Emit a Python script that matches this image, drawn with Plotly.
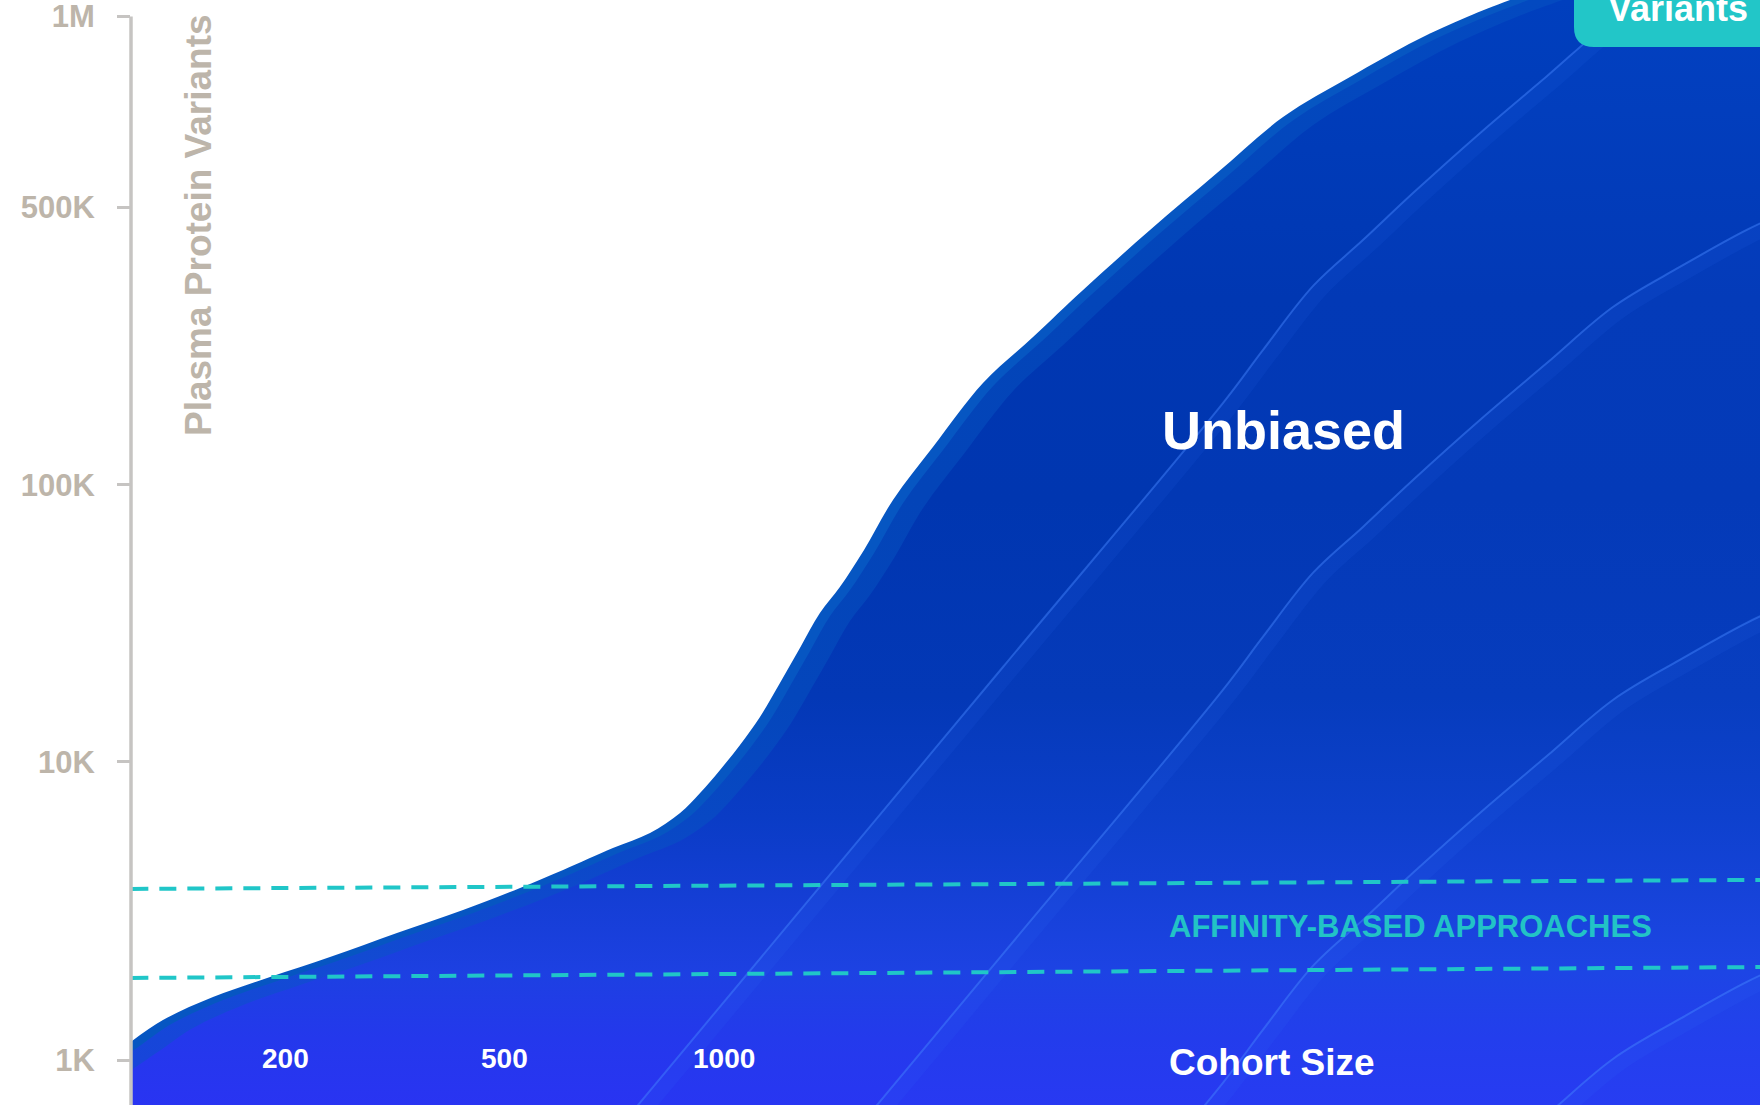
import numpy as np
import plotly.graph_objects as go

# ---------------- data ----------------
# y axis: plasma protein variants, labelled at these values / display levels
TICK_VALUES = [1_000, 10_000, 100_000, 500_000, 1_000_000]
TICK_TEXT = ["1K", "10K", "100K", "500K", "1M"]
TICK_LEVELS = [0.175, 1.335, 2.4125, 3.494, 4.235]
Y_TOP = 4.2996

# x axis: cohort size steps
COHORT_STEPS = [0, 1, 2]
COHORT_LABELS = ["200", "500", "1000"]
X_RANGE = [-0.7016, 6.72]

# unbiased discovery curve (cohort step -> variants)
curve_step = [-0.71, -0.556, -0.328, -0.068, 0.205, 0.510, 0.811, 1.071, 1.267,
              1.494, 1.663, 1.800, 1.891, 1.982, 2.073, 2.164, 2.255, 2.346,
              2.437, 2.528, 2.638, 2.770, 2.952, 3.180, 3.408, 3.636, 3.941,
              4.246, 4.547, 4.852, 5.157, 5.385, 5.581, 5.991, 6.720, 7.360]
curve_variants = [1140, 1362, 1627, 1899, 2216, 2669, 3187, 3778, 4341,
                  5145, 5777, 6744, 7870, 9402, 11520, 14540, 19290, 25790,
                  34510, 42830, 58270, 88290, 124600, 180500, 235600, 309300, 437700,
                  565700, 693700, 802500, 918300, 998200, 1062000, 1185000, 1370000, 1500000]

# affinity-based approaches band (dashed guides)
band_step = [-0.70, 6.72]
affinity_low = [1885, 2050]
affinity_high = [3750, 4020]

# ---------------- styling ----------------
FONT = "Liberation Sans, Arial, Helvetica, sans-serif"
GRAY_TEXT = "#bdb5aa"
GRAY_AXIS = "#c6c4c2"
TEAL = "#20c6c8"
EDGE = "#0656c2"

BASE = [(0.00, "#2934f2"), (0.06, "#2438ec"), (0.12, "#1d40e2"), (0.19, "#143ed4"),
        (0.26, "#0a3cc6"), (0.37, "#0338b6"), (0.55, "#0036b0"), (0.73, "#0037b2"),
        (1.00, "#003fbe")]

FOLD_SLOPE = 1.025   # levels per step for the straight lower run of each fold


def to_level(values):
    lv = np.log10(np.asarray(values, dtype=float))
    lt = np.log10(TICK_VALUES)
    lev = np.asarray(TICK_LEVELS)
    out = np.interp(lv, lt, lev)
    lo = (lev[1] - lev[0]) / (lt[1] - lt[0])
    hi = (lev[-1] - lev[-2]) / (lt[-1] - lt[-2])
    out = np.where(lv < lt[0], lev[0] + (lv - lt[0]) * lo, out)
    out = np.where(lv > lt[-1], lev[-1] + (lv - lt[-1]) * hi, out)
    return out


def hex_rgb(c):
    return [int(c[i:i + 2], 16) for i in (1, 3, 5)]


def mix(c1, c2, t):
    a, b = hex_rgb(c1), hex_rgb(c2)
    return "#%02x%02x%02x" % tuple(round(a[i] + (b[i] - a[i]) * t) for i in range(3))


def scale(toward, t):
    return [[p, mix(c, toward, t)] for p, c in BASE]


xs = np.asarray(curve_step, dtype=float)
ys = to_level(curve_variants)


def shifted(dx, dv, start=0, lead_slope=None):
    """Copy of the curve moved right by dx steps and down by dv levels,
    extended to the lower left so the fill reaches the axis."""
    sx = xs[start:] + dx
    sy = ys[start:] - dv
    slope = (sy[1] - sy[0]) / (sx[1] - sx[0]) if lead_slope is None else lead_slope
    lead = [sx[0] - d for d in (4.0, 2.0, 1.0)]
    lead_y = [sy[0] - slope * d for d in (4.0, 2.0, 1.0)]
    return np.r_[lead, sx], np.r_[lead_y, sy]


def grad(stops):
    return dict(type="vertical", start=0, stop=Y_TOP, colorscale=stops)


SPLINE = dict(shape="spline", smoothing=1.0)

fig = go.Figure()

# outer edge of the area
fig.add_trace(go.Scatter(x=xs, y=ys, mode="lines", line=dict(width=0, **SPLINE),
                         fill="tozeroy", fillcolor=EDGE, hoverinfo="skip"))
# soft edge band
bx, by = shifted(0.046, 0.012)
fig.add_trace(go.Scatter(x=bx, y=by, mode="lines", line=dict(width=0, **SPLINE),
                         fill="tozeroy", fillgradient=grad(scale(EDGE, 0.45)), hoverinfo="skip"))
# body
bx, by = shifted(0.137, 0.031)
fig.add_trace(go.Scatter(x=bx, y=by, mode="lines", line=dict(width=0, **SPLINE),
                         fill="tozeroy", fillgradient=grad(BASE), hoverinfo="skip"))

# folds of the surface: the upper part of the curve, carried on diagonally below
FOLD_START = curve_variants.index(88290)
folds = [(1.503, -0.377), (1.503, 0.739), (1.503, 2.268), (1.503, 3.665)]
for k, (dx, dv) in enumerate(folds, start=1):
    fx, fy = shifted(dx, dv, FOLD_START, FOLD_SLOPE)
    fig.add_trace(go.Scatter(x=fx, y=fy, mode="lines",
                             line=dict(width=2, color="rgba(70,135,255,0.45)", **SPLINE),
                             fill="tozeroy", fillgradient=grad(scale("#1f5af0", 0.06 * k)),
                             hoverinfo="skip"))
    gx, gy = shifted(dx + 0.03, dv + 0.015, FOLD_START, FOLD_SLOPE)
    fig.add_trace(go.Scatter(x=gx, y=gy, mode="lines",
                             line=dict(width=16, color="rgba(60,120,255,0.09)", **SPLINE),
                             hoverinfo="skip"))

# affinity band guides
for band in (affinity_high, affinity_low):
    fig.add_trace(go.Scatter(x=band_step, y=to_level(band), mode="lines",
                             line=dict(color=TEAL, width=4, dash="17px,11px"), hoverinfo="skip"))

# y axis line (ends at the top tick)
fig.add_shape(type="line", xref="paper", yref="y", x0=0, x1=0, y0=0, y1=TICK_LEVELS[-1],
              line=dict(color=GRAY_AXIS, width=3.5), layer="above")


# "Variants" tab in the top-right corner
def paper(px, py):
    return (px - 131) / 1629, 1 - py / 1105


x0, yb = paper(1574, 47)
_, ytop = paper(1574, -30)
_, yc = paper(1574, 27)
xc, _ = paper(1594, 47)
xr, _ = paper(1780, 47)
fig.add_shape(type="path", xref="paper", yref="paper",
              path=f"M {x0},{ytop} L {x0},{yc} Q {x0},{yb} {xc},{yb} L {xr},{yb} L {xr},{ytop} Z",
              fillcolor="#22c6c8", line=dict(width=0), layer="above")

ann = []
# cohort size labels sit inside the area, just above the bottom edge
_, lab_y = paper(0, 1058)
for step, label in zip(COHORT_STEPS, COHORT_LABELS):
    ann.append(dict(x=step, y=lab_y, xref="x", yref="paper", text=label, showarrow=False,
                    font=dict(family=FONT, size=28, color="white", weight="bold"),
                    xanchor="center", yanchor="middle"))
vx, vy = paper(1678, 9)
ann.append(dict(x=vx, y=vy, xref="paper", yref="paper", text="Variants", showarrow=False,
                font=dict(family=FONT, size=36, color="white", weight="bold"),
                xanchor="center", yanchor="middle"))
tx, ty = paper(199, 225)
ann.append(dict(x=tx, y=ty, xref="paper", yref="paper", text="Plasma Protein Variants",
                textangle=-90, showarrow=False,
                font=dict(family=FONT, size=37, color=GRAY_TEXT, weight="bold"),
                xanchor="center", yanchor="middle"))
ux, uy = paper(1283, 430)
ann.append(dict(x=ux, y=uy, xref="paper", yref="paper", text="Unbiased", showarrow=False,
                font=dict(family=FONT, size=54, color="white", weight="bold"),
                xanchor="center", yanchor="middle"))
ax_, ay_ = paper(1410, 926)
ann.append(dict(x=ax_, y=ay_, xref="paper", yref="paper", text="AFFINITY-BASED APPROACHES",
                showarrow=False, font=dict(family=FONT, size=31, color="#22c3c6", weight="bold"),
                xanchor="center", yanchor="middle"))
cx, cy = paper(1272, 1062)
ann.append(dict(x=cx, y=cy, xref="paper", yref="paper", text="Cohort Size", showarrow=False,
                font=dict(family=FONT, size=37, color="white", weight="bold"),
                xanchor="center", yanchor="middle"))

fig.update_layout(
    width=1760, height=1105,
    margin=dict(l=131, r=0, t=0, b=0),
    paper_bgcolor="white", plot_bgcolor="white",
    showlegend=False,
    annotations=ann,
    xaxis=dict(range=X_RANGE, tickvals=COHORT_STEPS, showticklabels=False,
               ticks="", showgrid=False, zeroline=False, showline=False),
    yaxis=dict(range=[0, Y_TOP], tickvals=TICK_LEVELS, ticktext=TICK_TEXT,
               ticks="outside", ticklen=13, tickwidth=3, tickcolor=GRAY_AXIS,
               showgrid=False, zeroline=False, showline=False, ticklabelstandoff=16,
               ticklabeloverflow="allow",
               tickfont=dict(family=FONT, size=31, color=GRAY_TEXT, weight="bold")),
)

fig.write_html("out.html")
